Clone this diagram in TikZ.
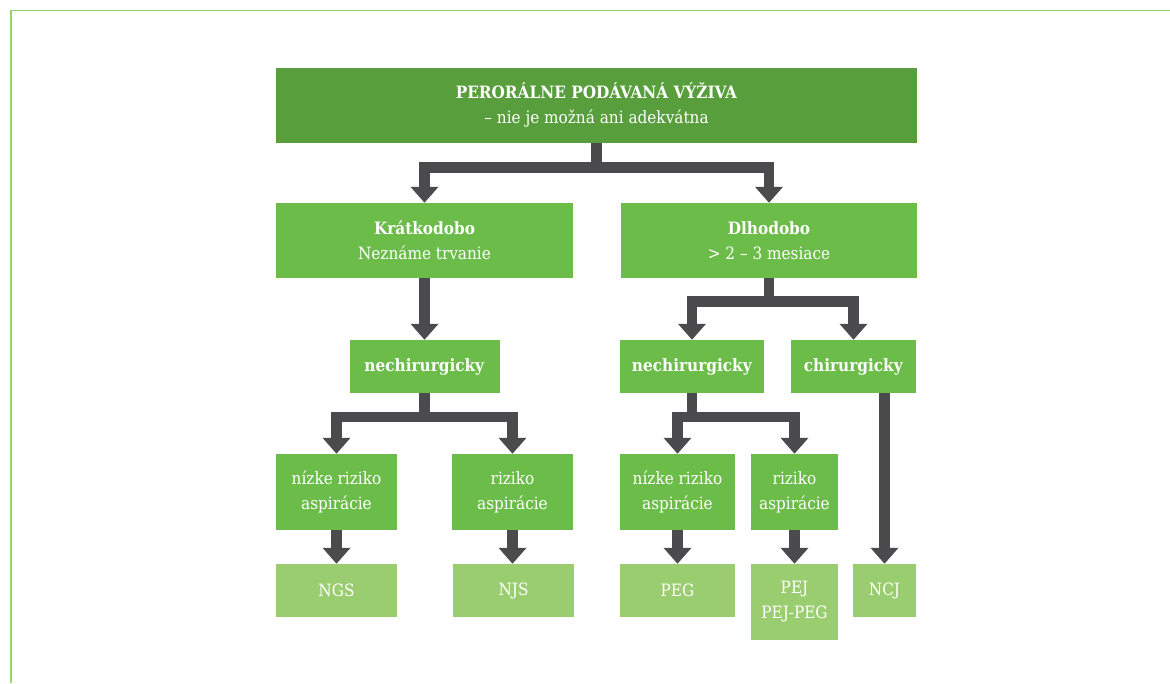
\documentclass[tikz,border=0pt]{standalone}
\usepackage{fontspec}
\setmainfont{DejaVu Serif Condensed}
\usepackage{tikz}
\usetikzlibrary{arrows.meta}

\definecolor{darkgreen}{HTML}{589E3C}
\definecolor{midgreen}{HTML}{6CBC4A}
\definecolor{lightgreen}{HTML}{9ACD6F}
\definecolor{linegreen}{HTML}{93D46E}
\definecolor{arrowgray}{HTML}{4B4B4D}

\begin{document}
\begin{tikzpicture}[x=1pt, y=-1pt,
  box/.style={fill=#1, text=white, inner sep=0pt, align=center, font=\fontsize{17}{25}\selectfont},
  conn/.style={draw=arrowgray, line width=10.5pt, line join=miter,
    -{Triangle[width=27pt, length=16pt]}}]
  \useasboundingbox (0,0) rectangle (1170,683);
  \draw[linegreen, line width=1.5pt] (11,683) -- (11,10.5) -- (1170,10.5);

  \node[box=darkgreen, minimum width=641pt, minimum height=75pt] (top) at (596.5,105.5)
    {\textbf{PERORÁLNE PODÁVANÁ VÝŽIVA}\\– nie je možná ani adekvátna};
  \node[box=midgreen, minimum width=297pt, minimum height=75pt] (kratko) at (424.5,240.5)
    {\textbf{Krátkodobo}\\Neznáme trvanie};
  \node[box=midgreen, minimum width=296pt, minimum height=75pt] (dlho) at (769,240.5)
    {\textbf{Dlhodobo}\\> 2 – 3 mesiace};

  \node[box=midgreen, minimum width=150pt, minimum height=53pt] (nechK) at (424.5,366.5)
    {\textbf{nechirurgicky}};
  \node[box=midgreen, minimum width=144pt, minimum height=53pt] (nechD) at (692,366.5)
    {\textbf{nechirurgicky}};
  \node[box=midgreen, minimum width=125pt, minimum height=53pt] (chir) at (853.5,366.5)
    {\textbf{chirurgicky}};

  \node[box=midgreen, minimum width=121pt, minimum height=76pt] (nizkeK) at (336.5,492)
    {nízke riziko\\aspirácie};
  \node[box=midgreen, minimum width=121pt, minimum height=76pt] (rizikoK) at (512.5,492)
    {riziko\\aspirácie};
  \node[box=midgreen, minimum width=115pt, minimum height=76pt] (nizkeD) at (677.5,492)
    {nízke riziko\\aspirácie};
  \node[box=midgreen, minimum width=87pt, minimum height=76pt] (rizikoD) at (794.5,492)
    {riziko\\aspirácie};

  \node[box=lightgreen, minimum width=121pt, minimum height=53pt] (ngs) at (336.5,590.5) {NGS};
  \node[box=lightgreen, minimum width=121pt, minimum height=53pt] (njs) at (513.5,590.5) {NJS};
  \node[box=lightgreen, minimum width=115pt, minimum height=53pt] (peg) at (677.5,590.5) {PEG};
  \node[box=lightgreen, minimum width=87pt, minimum height=76pt] (pej) at (794.5,602) {PEJ\\PEJ-PEG};
  \node[box=lightgreen, minimum width=63pt, minimum height=53pt] (ncj) at (884.5,590.5) {NCJ};

  \draw[conn] (top.south) -- ++(0,24.5) -| (kratko.north);
  \draw[conn] (top.south) -- ++(0,24.5) -| (dlho.north);
  \draw[conn] (kratko.south) -- (nechK.north);
  \draw[conn] (dlho.south) -- ++(0,23.5) -| (nechD.north);
  \draw[conn] (dlho.south) -- ++(0,23.5) -| (chir.north);
  \draw[conn] (nechK.south) -- ++(0,24) -| (nizkeK.north);
  \draw[conn] (nechK.south) -- ++(0,24) -| (rizikoK.north);
  \draw[conn] (nechD.south) -- ++(0,24) -| (nizkeD.north);
  \draw[conn] (nechD.south) -- ++(0,24) -| (rizikoD.north);
  \draw[conn] (nizkeK.south) -- (ngs.north);
  \draw[conn] (rizikoK.south) -- (njs.north -| rizikoK.south);
  \draw[conn] (nizkeD.south) -- (peg.north);
  \draw[conn] (rizikoD.south) -- (pej.north);
  \draw[conn] (chir.south -| ncj.north) -- (ncj.north);
\end{tikzpicture}
\end{document}
